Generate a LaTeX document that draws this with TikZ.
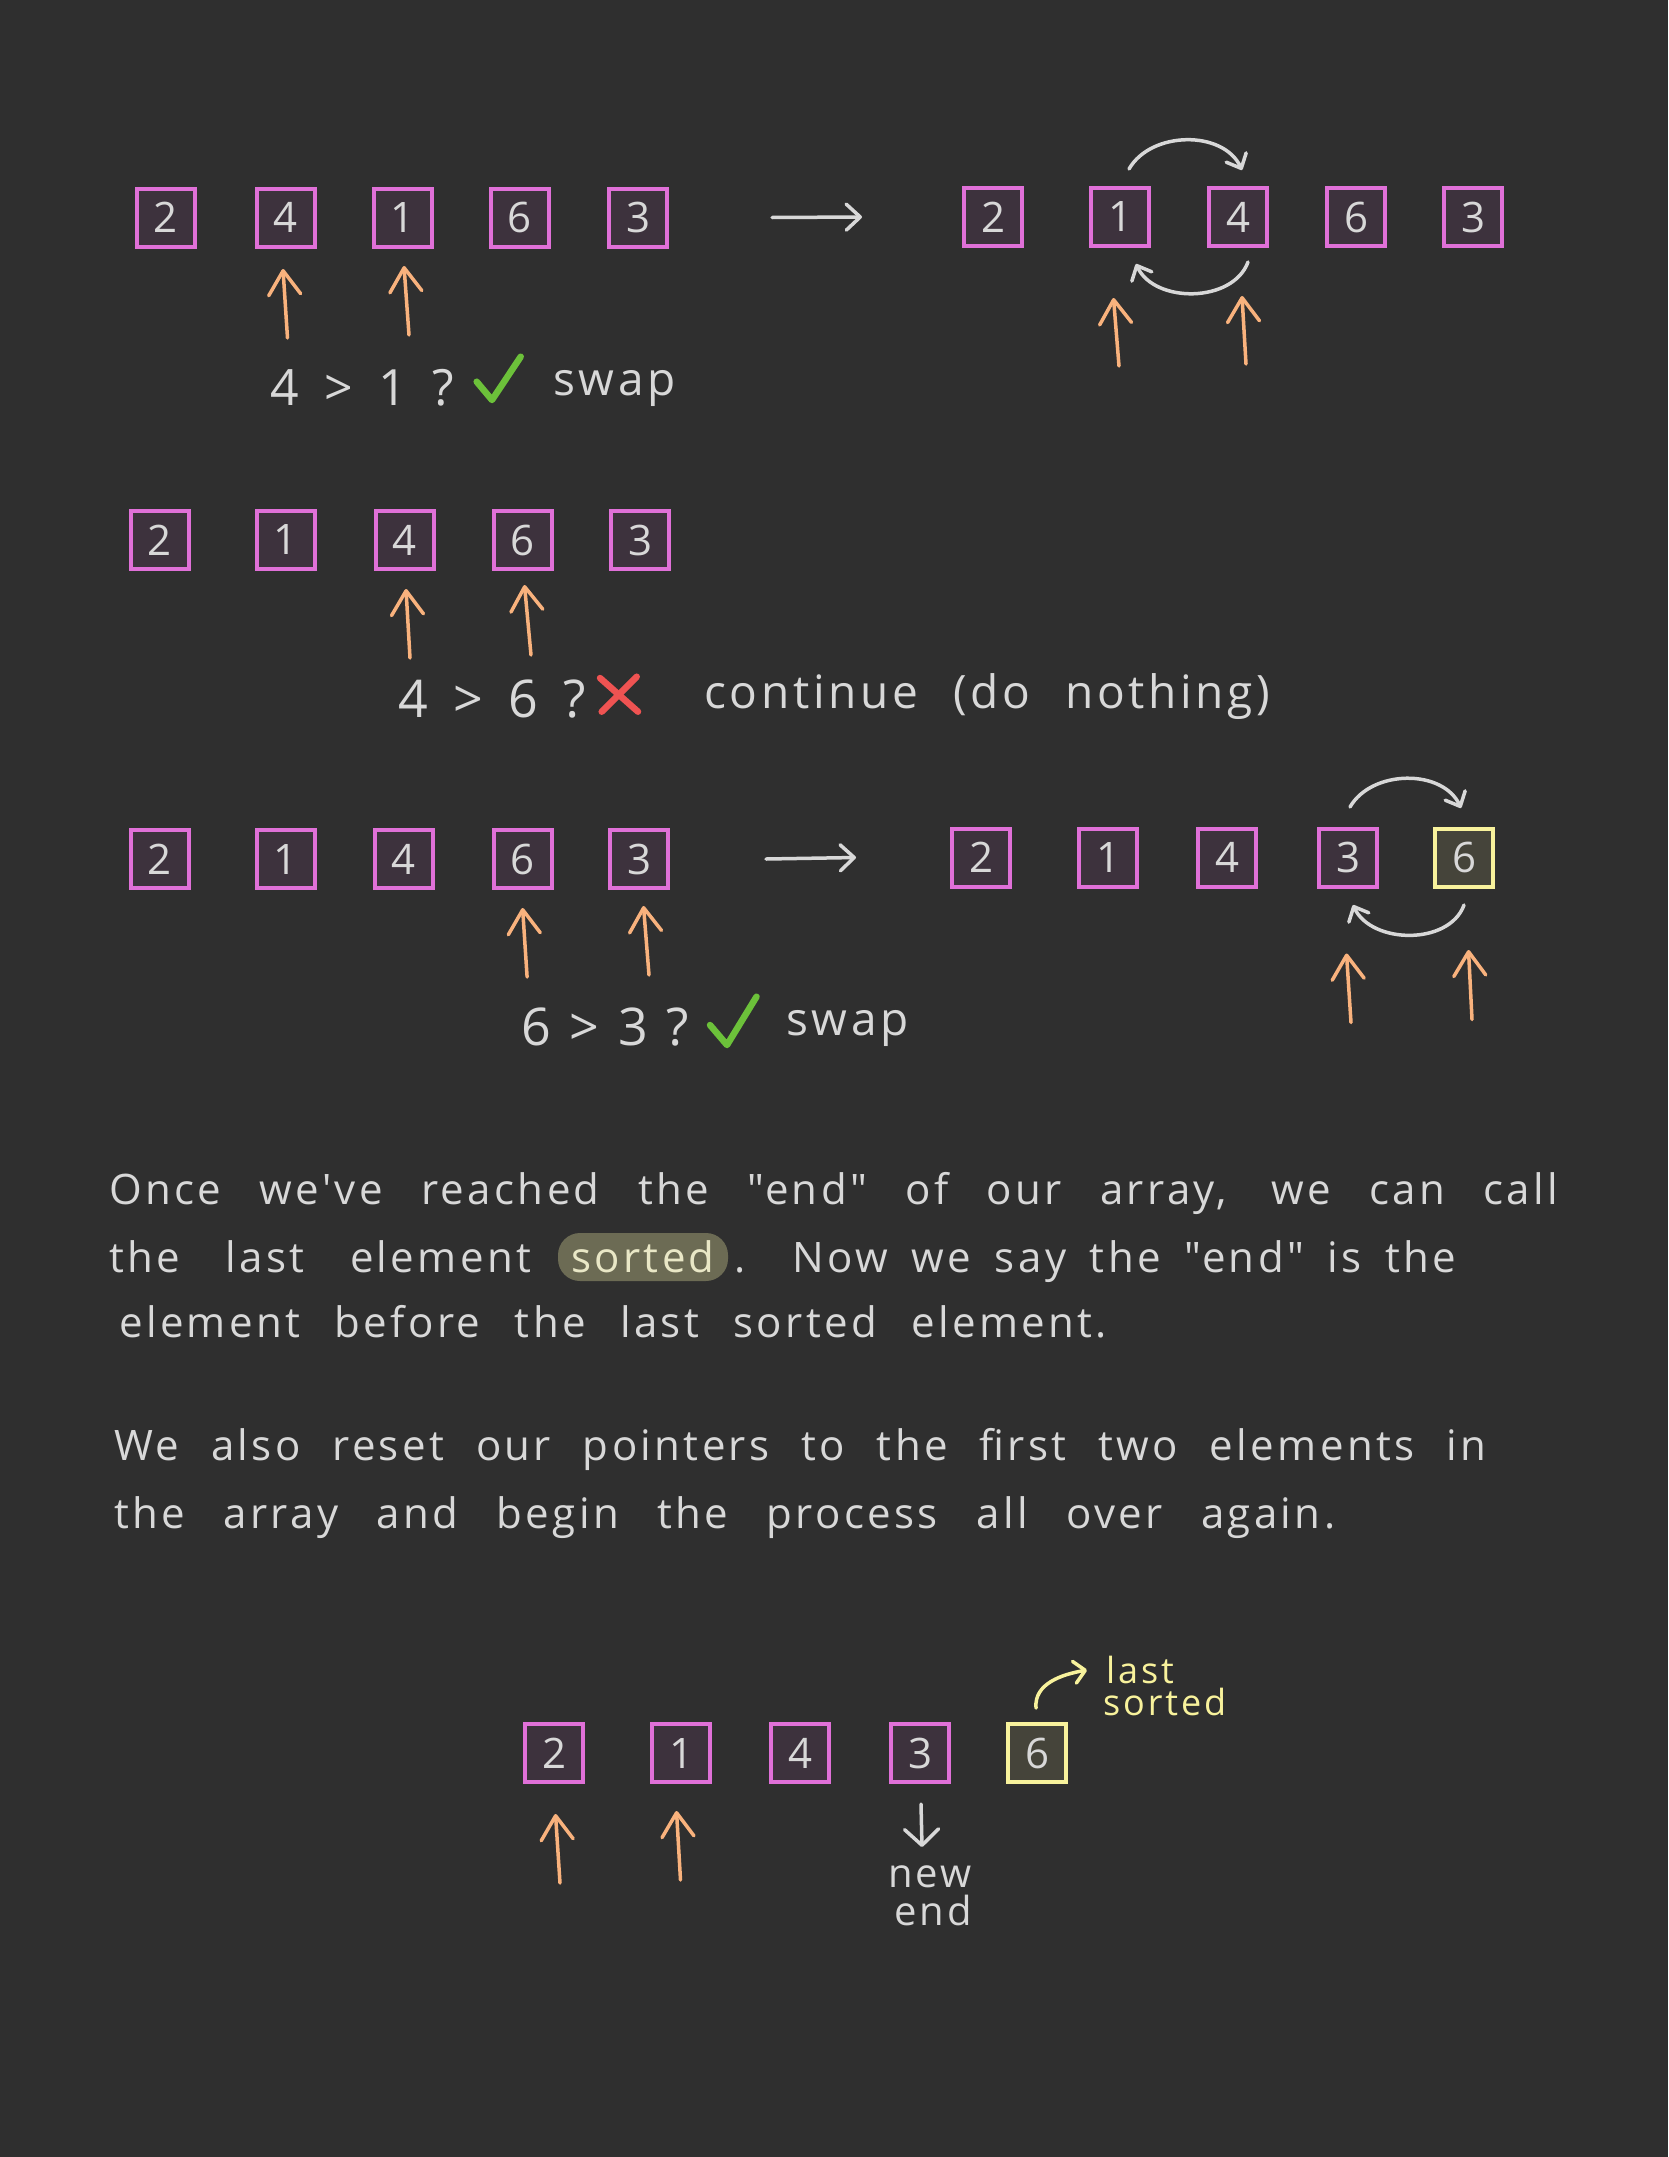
\documentclass[tikz,border=0pt]{standalone}
\usepackage{fontspec}
\newfontfamily\hand{Open Sans}[LetterSpace=8]
\newfontfamily\handnum{Open Sans}
\usetikzlibrary{arrows.meta,calc}

\definecolor{bg}{HTML}{2F2F2F}
\definecolor{ink}{HTML}{D8D8D8}
\definecolor{cellline}{HTML}{E070D8}
\definecolor{cellfill}{HTML}{3D323D}
\definecolor{sortedline}{HTML}{F8F29C}
\definecolor{sortedfill}{HTML}{45443A}
\definecolor{peach}{HTML}{F9B27D}
\definecolor{okgreen}{HTML}{6CC13A}
\definecolor{nored}{HTML}{EF5352}
\definecolor{hlfill}{HTML}{6C6B54}
\definecolor{hltext}{HTML}{E9E7C6}

% stretch a line of text to a given width (in pt)
\newcommand\spread[2]{\makebox[#1pt][s]{#2}}

\begin{document}
\begin{tikzpicture}[x=1pt,y=-1pt,
  cell/.style={draw=cellline, fill=cellfill, line width=4pt, minimum width=58pt,
    minimum height=58pt, inner sep=0pt, text=ink, font=\handnum\fontsize{42}{42}\selectfont},
  sortedcell/.style={cell, draw=sortedline, fill=sortedfill},
  pointer/.style={draw=peach, line width=3.5pt, line cap=round,
    -{Straight Barb[length=24pt,width=32pt,round]}},
  hop/.style={draw=ink, line width=3.5pt, line cap=round,
    -{Straight Barb[length=12pt,width=22pt,round]}},
  flow/.style={draw=ink, line width=3.5pt, line cap=round,
    -{Straight Barb[length=14pt,width=26pt,round]}},
  down/.style={draw=ink, line width=3.5pt, line cap=round,
    -{Straight Barb[length=16pt,width=34pt,round]}},
  callout/.style={draw=sortedline, line width=3.5pt, line cap=round,
    -{Straight Barb[length=11pt,width=22pt,round]}},
  tick/.style={draw=okgreen, line width=6.5pt, line cap=round, line join=round},
  cross/.style={draw=nored, line width=6.5pt, line cap=round},
  lbl/.style={inner sep=0pt, anchor=base west, text=ink},
  cmp/.style={lbl, font=\handnum\fontsize{50}{50}\selectfont},
  word/.style={lbl, font=\hand\fontsize{46}{46}\selectfont},
  para/.style={lbl, font=\hand\fontsize{42}{42}\selectfont},
  hl/.style={fill=hlfill, text=hltext, rounded corners=22pt, minimum width=170pt,
    minimum height=48pt, inner sep=0pt, font=\hand\fontsize{42}{42}\selectfont},
  note/.style={lbl, font=\hand\fontsize{36}{36}\selectfont},
]
\fill[bg] (0,0) rectangle (1668,2157);
\useasboundingbox (0,0) rectangle (1668,2157);

% ---------- first comparison: 4 > 1, swap ----------
\node[cell] (a1) at (166,217.5) {2};
\node[cell] (a2) at (286,217.5) {4};
\node[cell] (a3) at (403,217.5) {1};
\node[cell] (a4) at (520,217.5) {6};
\node[cell] (a5) at (638,217.5) {3};

\node[cell] (b1) at (993,217) {2};
\node[cell] (b2) at (1120,217) {1};
\node[cell] (b3) at (1238,217) {4};
\node[cell] (b4) at (1356,217) {6};
\node[cell] (b5) at (1473,217) {3};

\draw[flow] ([xshift=103pt]a5.east) -- ([xshift=-100pt]b1.west);

\draw[pointer] ([shift={(1.5pt,-89.5pt)}]a2.south) -- ([shift={(-3pt,-20.5pt)}]a2.south);
\draw[pointer] ([shift={(6pt,-86.5pt)}]a3.south) -- ([shift={(1pt,-17.5pt)}]a3.south);

\draw[hop] ([shift={(9pt,17pt)}]b2.north) to[out=60,in=115] ([shift={(4pt,16pt)}]b3.north);
\draw[hop] ([shift={(10pt,-14pt)}]b3.south) to[out=-110,in=-65] ([shift={(16pt,-16pt)}]b2.south);

\draw[pointer] ([shift={(-1pt,-118pt)}]b2.south) -- ([shift={(-6.5pt,-50pt)}]b2.south);
\draw[pointer] ([shift={(8pt,-116pt)}]b3.south) -- ([shift={(4pt,-48pt)}]b3.south);

\node[cmp] (q1) at (270,405) {\spread{184}{4 > 1 ?}};
\draw[tick] (476.7,381.7) -- (492,400) -- (520.7,356.7);
\node[word] (s1) at (553,395) {swap};

% ---------- second comparison: 4 > 6, nothing ----------
\node[cell] (c1) at (159.5,540) {2};
\node[cell] (c2) at (286,540) {1};
\node[cell] (c3) at (404.5,540) {4};
\node[cell] (c4) at (522.5,540) {6};
\node[cell] (c5) at (640,540) {3};

\draw[pointer] ([shift={(5.5pt,-87pt)}]c3.south) -- ([shift={(1.5pt,-18pt)}]c3.south);
\draw[pointer] ([shift={(8.5pt,-84pt)}]c4.south) -- ([shift={(2pt,-14pt)}]c4.south);

\node[cmp, font=\handnum\fontsize{52}{52}\selectfont] (q2) at (398,717) {\spread{188}{4 > 6 ?}};
\draw[cross] (600,678) -- (638,711.7);
\draw[cross] (636.7,676.7) -- (601.7,711.7);
\node[word] (cont) at (704,708) {\spread{566}{continue (do nothing)}};

% ---------- third comparison: 6 > 3, swap ----------
\node[cell] (d1) at (160,859) {2};
\node[cell] (d2) at (286,859) {1};
\node[cell] (d3) at (404,859) {4};
\node[cell] (d4) at (522.6,859) {6};
\node[cell] (d5) at (639,859) {3};

\node[cell] (e1) at (981,857.5) {2};
\node[cell] (e2) at (1108,857.5) {1};
\node[cell] (e3) at (1227,857.5) {4};
\node[cell] (e4) at (1348,857.5) {3};
\node[sortedcell] (e5) at (1464,857.5) {6};

\draw[flow] ([xshift=96pt]d5.east) -- ([xshift=-94pt]e1.west);

\draw[pointer] ([shift={(4.5pt,-87pt)}]d4.south) -- ([shift={(0pt,-18pt)}]d4.south);
\draw[pointer] ([shift={(10pt,-85pt)}]d5.south) -- ([shift={(4.5pt,-16pt)}]d5.south);

\draw[hop] ([shift={(2pt,19.5pt)}]e4.north) to[out=60,in=115] ([shift={(-3pt,18.5pt)}]e5.north);
\draw[hop] ([shift={(0pt,-16.5pt)}]e5.south) to[out=-110,in=-65] ([shift={(5pt,-16.5pt)}]e4.south);

\draw[pointer] ([shift={(3pt,-134pt)}]e4.south) -- ([shift={(-1.5pt,-65pt)}]e4.south);
\draw[pointer] ([shift={(8pt,-131pt)}]e5.south) -- ([shift={(4.5pt,-61.5pt)}]e5.south);

\node[cmp, font=\handnum\fontsize{52}{52}\selectfont] (q3) at (521,1045) {\spread{168}{6 > 3 ?}};
\draw[tick] (710,1025) -- (727,1045) -- (756.5,996.7);
\node[word] (s3) at (786,1035) {swap};

% ---------- explanation ----------
\node[para] (p1) at (109,1204) {\spread{1449}{Once we've reached the "end" of our array, we can call}};
\node[para] (p2a) at (109,1272) {\spread{422}{the last element}};
\node[hl] (p2b) at (643,1257) {sorted};
\node[para] (p2c) at (734,1272) {\spread{722}{. Now we say the "end" is the}};
\node[para] (p3) at (119,1337) {\spread{988}{element before the last sorted element.}};
\node[para] (p4) at (114,1460) {\spread{1372}{We also reset our pointers to the first two elements in}};
\node[para] (p5) at (114,1528) {\spread{1221}{the array and begin the process all over again.}};

% ---------- next pass ----------
\node[cell] (f1) at (554,1753) {2};
\node[cell] (f2) at (681,1753) {1};
\node[cell] (f3) at (800,1753) {4};
\node[cell] (f4) at (920,1753) {3};
\node[sortedcell] (f5) at (1037,1753) {6};

\draw[pointer] ([shift={(6pt,-99pt)}]f1.south) -- ([shift={(1.5pt,-30pt)}]f1.south);
\draw[pointer] ([shift={(-0.5pt,-96pt)}]f2.south) -- ([shift={(-4.5pt,-27pt)}]f2.south);

\coordinate (endtip) at (922,1847);
\draw[down] ([shift={(1pt,-20pt)}]f4.south) -- (endtip);
\node[note, anchor=base, font=\hand\fontsize{40}{40}\selectfont] (neww) at (930,1887) {new};
\node[note, anchor=base, font=\hand\fontsize{40}{40}\selectfont] (endw) at (933,1925) {end};

\coordinate (lasttip) at (1087,1670);
\draw[callout] ([shift={(-1pt,14pt)}]f5.north) to[out=95,in=190] (lasttip);
\node[note, text=sortedline] (lastw) at (1106,1683) {last};
\node[note, text=sortedline] (sortedw) at (1103,1715) {sorted};
\end{tikzpicture}
\end{document}
